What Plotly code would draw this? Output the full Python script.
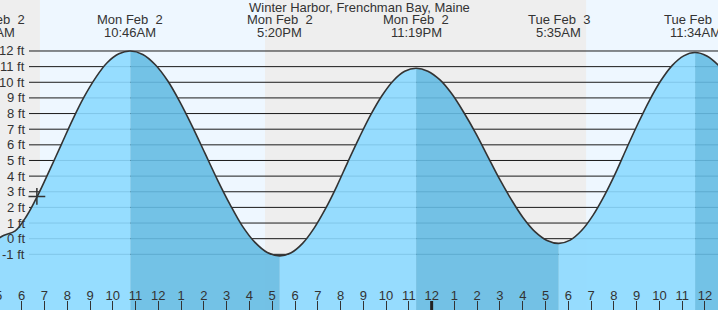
import datetime as dt
import plotly.graph_objects as go

title = "Winter Harbor, Frenchman Bay, Maine"

# Tide heights (ft): turning points plus readings about every half hour
tide_times = [
    "2026-02-02 04:42", "2026-02-02 05:12", "2026-02-02 05:43", "2026-02-02 06:13",
    "2026-02-02 06:43", "2026-02-02 07:13", "2026-02-02 07:44", "2026-02-02 08:14",
    "2026-02-02 08:44", "2026-02-02 09:15", "2026-02-02 09:45", "2026-02-02 10:16",
    "2026-02-02 10:46", "2026-02-02 11:19", "2026-02-02 11:52", "2026-02-02 12:25",
    "2026-02-02 12:57", "2026-02-02 13:30", "2026-02-02 14:03", "2026-02-02 14:36",
    "2026-02-02 15:09", "2026-02-02 15:41", "2026-02-02 16:14", "2026-02-02 16:47",
    "2026-02-02 17:20", "2026-02-02 17:50", "2026-02-02 18:20", "2026-02-02 18:50",
    "2026-02-02 19:20", "2026-02-02 19:50", "2026-02-02 20:19", "2026-02-02 20:49",
    "2026-02-02 21:19", "2026-02-02 21:49", "2026-02-02 22:19", "2026-02-02 22:49",
    "2026-02-02 23:19", "2026-02-02 23:50", "2026-02-03 00:22", "2026-02-03 00:53",
    "2026-02-03 01:24", "2026-02-03 01:56", "2026-02-03 02:27", "2026-02-03 02:58",
    "2026-02-03 03:30", "2026-02-03 04:01", "2026-02-03 04:32", "2026-02-03 05:04",
    "2026-02-03 05:35", "2026-02-03 06:05", "2026-02-03 06:35", "2026-02-03 07:05",
    "2026-02-03 07:35", "2026-02-03 08:05", "2026-02-03 08:34", "2026-02-03 09:04",
    "2026-02-03 09:34", "2026-02-03 10:04", "2026-02-03 10:34", "2026-02-03 11:04",
    "2026-02-03 11:34", "2026-02-03 12:05", "2026-02-03 12:37", "2026-02-03 13:08",
]
tide_heights = [
    -0.25, 0.2, 0.5, 1.45, 2.8, 4.35, 6.0, 7.6, 9.05, 10.3, 11.25, 11.82,
    12.0, 11.78, 11.12, 10.08, 8.73, 7.15, 5.45, 3.75, 2.18, 0.82, -0.22, -0.88,
    -1.1, -0.9, -0.3, 0.66, 1.9, 3.35, 4.9, 6.45, 7.9, 9.14, 10.1, 10.7,
    10.9, 10.71, 10.15, 9.26, 8.1, 6.75, 5.3, 3.85, 2.5, 1.34, 0.45, -0.11,
    -0.3, -0.09, 0.52, 1.49, 2.75, 4.22, 5.8, 7.38, 8.85, 10.11, 11.08, 11.69,
    11.9, 11.68, 11.04, 10.03,
]

# High / low tides
extreme_times = ["2026-02-02 04:42", "2026-02-02 10:46", "2026-02-02 17:20",
                 "2026-02-02 23:19", "2026-02-03 05:35", "2026-02-03 11:34"]
extreme_day_labels = ["Mon Feb\u00a0 2", "Mon Feb\u00a0 2", "Mon Feb\u00a0 2",
                      "Mon Feb\u00a0 2", "Tue Feb\u00a0 3", "Tue Feb\u00a0 3"]
extreme_time_labels = ["4:42AM", "10:46AM", "5:20PM", "11:19PM", "5:35AM", "11:34AM"]

# Daylight periods
day_starts = ["2026-02-02 06:48", "2026-02-03 06:47"]
day_ends = ["2026-02-02 16:41", "2026-02-03 16:42"]

# Current time marker
now_time = ["2026-02-02 06:40"]
now_height = [2.7]

# Axes
y_ticks = [-1, 0, 1, 2, 3, 4, 5, 6, 7, 8, 9, 10, 11, 12]
x_tick_times = [
    "2026-02-02 05:00", "2026-02-02 06:00", "2026-02-02 07:00", "2026-02-02 08:00",
    "2026-02-02 09:00", "2026-02-02 10:00", "2026-02-02 11:00", "2026-02-02 12:00",
    "2026-02-02 13:00", "2026-02-02 14:00", "2026-02-02 15:00", "2026-02-02 16:00",
    "2026-02-02 17:00", "2026-02-02 18:00", "2026-02-02 19:00", "2026-02-02 20:00",
    "2026-02-02 21:00", "2026-02-02 22:00", "2026-02-02 23:00", "2026-02-03 00:00",
    "2026-02-03 01:00", "2026-02-03 02:00", "2026-02-03 03:00", "2026-02-03 04:00",
    "2026-02-03 05:00", "2026-02-03 06:00", "2026-02-03 07:00", "2026-02-03 08:00",
    "2026-02-03 09:00", "2026-02-03 10:00", "2026-02-03 11:00", "2026-02-03 12:00",
]
x_tick_labels = ["5", "6", "7", "8", "9", "10", "11", "12", "1", "2", "3", "4",
                 "5", "6", "7", "8", "9", "10", "11", "12", "1", "2", "3", "4",
                 "5", "6", "7", "8", "9", "10", "11", "12"]
midnight = "2026-02-03 00:00"

x_range = ["2026-02-02 05:02:50", "2026-02-03 12:34:23"]
y_range = [-4.56, 15.26]

FONT = "Liberation Sans, Arial, sans-serif"
TEXT = "#333333"
NIGHT = "#eeeeee"
DAY = "#eef7ff"
FLOOD = "rgba(140,217,255,0.9)"
EBB = "rgba(101,187,227,0.9)"

P = dt.datetime.fromisoformat
s_times = [P(t) for t in tide_times]
s_heights = list(tide_heights)
X0, X1 = P(x_range[0]), P(x_range[1])


def paper_x(t):
    return (P(t) - X0) / (X1 - X0)


fig = go.Figure()

# filled area, coloured by rising / falling tide
floor = y_range[0] - 1
bounds = [P(t) for t in extreme_times] + [s_times[-1]]
for i in range(len(bounds) - 1):
    a, b = bounds[i], bounds[i + 1]
    xs = [t for t in s_times if a <= t <= b]
    ys = [h for t, h in zip(s_times, s_heights) if a <= t <= b]
    color = FLOOD if ys[-1] > ys[0] else EBB
    fig.add_trace(go.Scatter(x=[a, b], y=[floor, floor], mode="lines",
                             line=dict(width=0, color="rgba(0,0,0,0)"),
                             hoverinfo="skip", showlegend=False))
    fig.add_trace(go.Scatter(x=xs, y=ys, mode="lines", fill="tonexty",
                             fillcolor=color,
                             line=dict(width=0, color="rgba(0,0,0,0)", shape="spline"),
                             hoverinfo="skip", showlegend=False))

fig.add_trace(go.Scatter(x=s_times, y=s_heights, mode="lines",
                         line=dict(color="#333333", width=1.6, shape="spline"),
                         showlegend=False))
fig.add_trace(go.Scatter(x=now_time, y=now_height, mode="markers",
                         marker=dict(symbol="cross-thin", size=12,
                                     line=dict(color="#333333", width=1.5)),
                         showlegend=False))

shapes = []
for s, e in zip(day_starts, day_ends):
    shapes.append(dict(type="rect", xref="x", yref="paper", x0=s, x1=e, y0=0, y1=1,
                       fillcolor=DAY, line=dict(width=0), layer="below"))
for v in y_ticks:
    shapes.append(dict(type="line", xref="paper", yref="y", x0=29 / 718, x1=1,
                       y0=v, y1=v, line=dict(color="#1a1a1a", width=1), layer="below"))
shapes.append(dict(type="line", xref="x", yref="paper", x0=midnight, x1=midnight,
                   y0=0, y1=9 / 310, line=dict(color="#222222", width=3)))

tf = dict(size=13, color=TEXT, family=FONT)
annotations = [dict(text=title, xref="paper", yref="paper", x=0.5, y=1 - 7 / 310,
                    xanchor="center", yanchor="middle", showarrow=False, font=tf)]
for t, d, tl in zip(extreme_times, extreme_day_labels, extreme_time_labels):
    px = paper_x(t)
    annotations.append(dict(text=d, xref="paper", yref="paper", x=px, y=1 - 19.5 / 310,
                            xanchor="center", yanchor="middle", showarrow=False, font=tf))
    annotations.append(dict(text=tl, xref="paper", yref="paper", x=px, y=1 - 32 / 310,
                            xanchor="center", yanchor="middle", showarrow=False, font=tf))
for v in y_ticks:
    annotations.append(dict(text=f"{v} ft", xref="paper", yref="y", x=27 / 718, y=v,
                            xanchor="right", yanchor="middle", showarrow=False, font=tf))
# hour label partly off the left edge
annotations.append(dict(text=x_tick_labels[0], xref="paper", yref="paper",
                        x=paper_x(x_tick_times[0]), y=15 / 310,
                        xanchor="center", yanchor="middle", showarrow=False, font=tf))

fig.update_layout(
    width=718, height=310,
    margin=dict(l=0, r=0, t=0, b=0, pad=0),
    paper_bgcolor=NIGHT, plot_bgcolor=NIGHT,
    font=dict(family=FONT, size=13, color=TEXT),
    shapes=shapes, annotations=annotations, showlegend=False,
    xaxis=dict(type="date", range=x_range, showgrid=False, zeroline=False,
               showline=False, tickmode="array", tickvals=x_tick_times,
               ticktext=x_tick_labels, ticks="inside", ticklen=9, tickwidth=1,
               tickcolor="#333333", ticklabelposition="inside", ticklabelstandoff=-2,
               tickfont=tf),
    yaxis=dict(range=y_range, showgrid=False, zeroline=False, showline=False,
               showticklabels=False, ticks=""),
)

fig.write_html("out.html")
